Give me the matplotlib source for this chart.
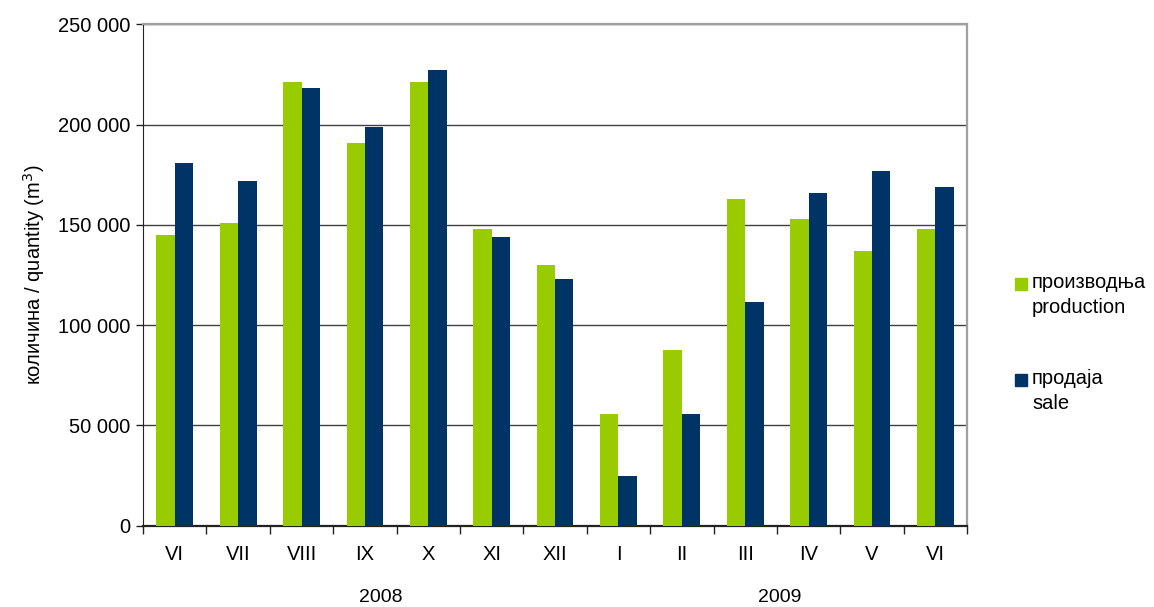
# ==== IMPORT ================================================================ #

import matplotlib
matplotlib.use("Agg")

import matplotlib.pyplot  as plt
import matplotlib.patches as mpatches
import numpy              as np
from matplotlib.ticker import FuncFormatter

# ==== DATA ================================================================== #

months     = ["VI", "VII", "VIII", "IX", "X", "XI", "XII",
              "I", "II", "III", "IV", "V", "VI"]
production = [145000, 151000, 221000, 191000, 221000, 148000, 130000,
              55600, 87500, 163000, 153000, 137000, 148000]
sale       = [181000, 172000, 218000, 199000, 227000, 144000, 123000,
              24800, 55600, 111400, 166000, 177000, 169000]
years      = ["2008", "2009"]
year_pos   = [3.25, 9.55]
legend_txt = [("производња", "production"), ("продаја", "sale")]

GREEN = "#99cc00"
NAVY  = "#003366"

# ==== FUNCTIONS ============================================================= #

def thousands(v, pos):

    return "{:,.0f}".format(v).replace(",", " ")


def draw():

    plt.rcParams["font.family"] = ["Liberation Sans", "DejaVu Sans"]

    fig = plt.figure(figsize = (11.54, 6.07), dpi = 100)
    ax  = fig.add_axes([0.124, 0.134, 0.714, 0.826])

    x = np.arange(len(months))
    w = 0.29

    ax.bar(x - w / 2, production, w, color = GREEN, zorder = 3)
    ax.bar(x + w / 2, sale,       w, color = NAVY,  zorder = 3)

    ax.set_xlim(-0.5, len(months) - 0.5)
    ax.set_ylim(0, 250000)
    ax.set_yticks(np.arange(0, 250001, 50000))
    ax.yaxis.set_major_formatter(FuncFormatter(thousands))
    ax.yaxis.grid(True, color = "#404040", linewidth = 1.0, zorder = 0)

    ax.set_xticks(x)
    ax.set_xticklabels(months)
    ax.set_xticks(np.arange(-0.5, len(months), 1.0), minor = True)
    ax.tick_params(axis = "x", which = "major", length = 0, pad = 14,
                   labelsize = 14.5)
    ax.tick_params(axis = "x", which = "minor", length = 6, width = 1.0,
                   direction = "out", color = "#222222")
    ax.tick_params(axis = "y", length = 5, width = 1.0, labelsize = 14.5,
                   color = "#222222", pad = 4)

    ax.spines["left"].set_color("#222222")
    ax.spines["bottom"].set_color("#222222")
    ax.spines["bottom"].set_linewidth(1.6)
    ax.spines["right"].set_color("#a0a0a0")
    ax.spines["top"].set_color("#a0a0a0")
    ax.spines["right"].set_linewidth(1.6)
    ax.spines["top"].set_linewidth(1.6)

    ax.set_ylabel("количина / quantity (m$^3$)", fontsize = 14.5,
                  labelpad = 8)

    for label, p in zip(years, year_pos):
        ax.text(p, -0.152, label, transform = ax.get_xaxis_transform(),
                ha = "center", va = "baseline", fontsize = 14)

    # legend drawn by hand so the swatch sits on the first line
    tops = [278, 374]
    for (l1, l2), c, t in zip(legend_txt, (GREEN, NAVY), tops):
        fig.patches.append(mpatches.Rectangle(
            (1015 / 1154, 1 - (t + 12) / 607), 12 / 1154, 12 / 607,
            transform = fig.transFigure, color = c, figure = fig))
        fig.text(1032 / 1154, 1 - (t + 10) / 607, l1, fontsize = 14.5,
                 va = "baseline", ha = "left")
        fig.text(1032 / 1154, 1 - (t + 35) / 607, l2, fontsize = 14.5,
                 va = "baseline", ha = "left")

    fig.savefig("out.png", dpi = 100)

# ==== MAIN ================================================================== #

def main():

    draw()


if __name__ == "__main__":

    main()
